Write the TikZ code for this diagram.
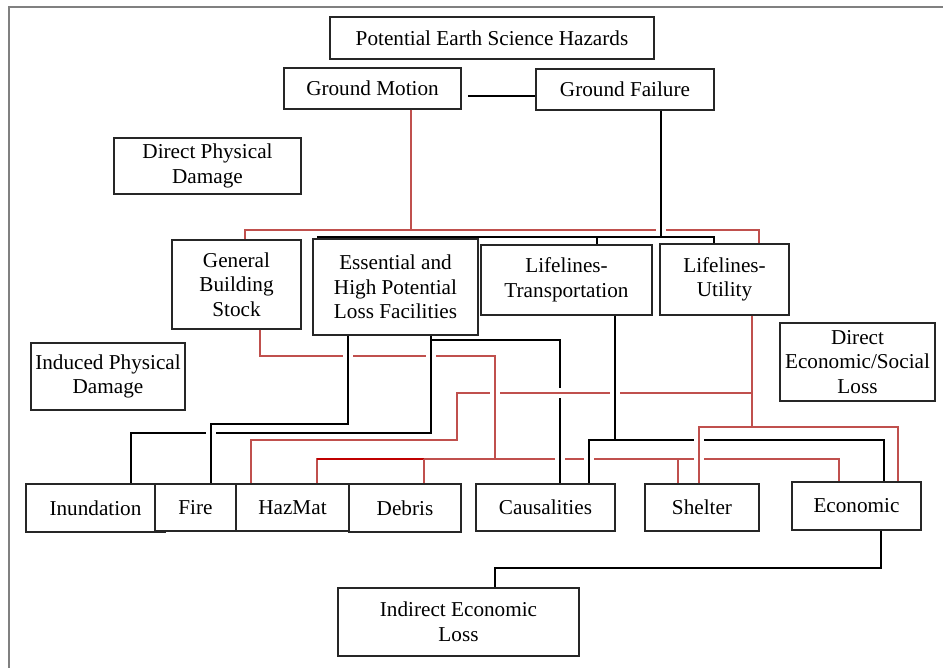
\documentclass[tikz,border=0pt]{standalone}
\usepackage{fontspec}
\setmainfont{Liberation Serif}
\definecolor{hazred}{RGB}{192,80,77}
\definecolor{hazdark}{RGB}{192,0,0}

\begin{document}
\begin{tikzpicture}[
  x=0.5pt, y=-0.5pt,
  font=\fontsize{10.6}{12.3}\selectfont,
  box/.style={rectangle, draw=black!85, line width=0.7pt, fill=white,
              align=center, inner sep=0pt},
  bk/.style={draw=black, line width=1pt},
  rd/.style={draw=hazred, line width=0.8pt},
  cut/.style={preaction={draw=white, line width=5pt}},
  frm/.style={draw=black!50, line width=1pt}
]
\useasboundingbox (0,0) rectangle (943,668);
\draw[frm] (9,668) -- (9,7) -- (943,7);

% top
\node[box, minimum width=162pt, minimum height=21pt] (haz) at (492,38) {Potential Earth Science Hazards};
\node[box, minimum width=88.5pt, minimum height=20.5pt] (gm) at (372.5,88.5) {Ground Motion};
\node[box, minimum width=89pt, minimum height=20.5pt] (gf) at (625,89.5) {Ground Failure};
\node[box, minimum width=93.5pt, minimum height=28pt] (dpd) at (207.5,166) {Direct Physical\\Damage};

% inventory
\node[box, minimum width=64.5pt, minimum height=44.5pt] (gbs) at (236.5,284.5) {General\\Building\\Stock};
\node[box, minimum width=82.5pt, minimum height=48pt] (ess) at (395.5,287) {Essential and\\High Potential\\Loss Facilities};
\node[box, minimum width=85.5pt, minimum height=35pt] (ltr) at (566.5,280) {Lifelines-\\Transportation};
\node[box, minimum width=64.5pt, minimum height=35.5pt] (lut) at (724.5,279.5) {Lifelines-\\Utility};
\node[box, minimum width=77.5pt, minimum height=39pt] (desl) at (857.5,362) {Direct\\Economic/Social\\Loss};
\node[box, minimum width=77pt, minimum height=33.5pt] (ipd) at (108,376.5) {Induced Physical\\Damage};

% losses
\node[box, minimum width=69.5pt, minimum height=24pt] (inu) at (95.5,508) {Inundation};
\node[box, minimum width=40.5pt, minimum height=23.5pt] (fire) at (195.5,507.5) {Fire};
\node[box, minimum width=56.5pt, minimum height=23.5pt] (hzm) at (292.5,507.5) {HazMat};
\node[box, minimum width=56pt, minimum height=24pt] (deb) at (405,508) {Debris};
\node[box, minimum width=69.5pt, minimum height=23.5pt] (cas) at (545.5,507.5) {Causalities};
\node[box, minimum width=57pt, minimum height=23.5pt] (shl) at (702,507.5) {Shelter};
\node[box, minimum width=64.5pt, minimum height=24pt] (eco) at (856.5,506) {Economic};
\node[box, minimum width=120.5pt, minimum height=34pt] (iel) at (458.5,622) {Indirect Economic\\Loss};

% bend points
\coordinate (b0) at (468,96);
\coordinate (r1) at (411,230);
\coordinate (r1l) at (245,230);
\coordinate (r1r) at (759,230);
\coordinate (b1) at (661,237);
\coordinate (b1l) at (318,237);
\coordinate (b1t) at (597,237);
\coordinate (b1r) at (714,237);
\coordinate (r2a) at (260,356);
\coordinate (r2b) at (495,356);
\coordinate (r2c) at (495,459);
\coordinate (r2l) at (317,459);
\coordinate (r2d) at (424,459);
\coordinate (r2s) at (678,459);
\coordinate (r2r) at (839,459);
\coordinate (b2a) at (348,424);
\coordinate (b2b) at (211,424);
\coordinate (b3a) at (431,433);
\coordinate (b3b) at (131,433);
\coordinate (b3c) at (431,340);
\coordinate (b3d) at (560,340);
\coordinate (r3a) at (752,427);
\coordinate (r3b) at (752,393);
\coordinate (r3c) at (457,393);
\coordinate (r3d) at (457,440);
\coordinate (r3e) at (251,440);
\coordinate (r3l) at (699,427);
\coordinate (r3r) at (898,427);
\coordinate (b4a) at (615,440);
\coordinate (b4l) at (589,440);
\coordinate (b4r) at (884,440);
\coordinate (b5a) at (881,568);
\coordinate (b5b) at (495,568);

% hazards to inventory
\draw[bk] (b0) -- (gf.west |- b0);
\draw[rd] (gm.south -| r1) -- (r1);
\draw[rd] (gbs.north -| r1l) -- (r1l) -- (r1r) -- (lut.north -| r1r);
\draw[bk] (gf.south -| b1) -- (b1);
\draw[bk] (ess.north -| b1l) -- (b1l) -- (b1r) -- (lut.north -| b1r);
\draw[bk] (b1t) -- (ltr.north -| b1t);

% inventory to losses
\draw[rd] (gbs.south -| r2a) -- (r2a) -- (r2b) -- (r2c);
\draw[rd] (hzm.north -| r2l) -- (r2l) -- (r2r) -- (eco.north -| r2r);
\draw[hazdark, line width=0.9pt] (r2l) -- (r2d);
\draw[rd] (r2d) -- (deb.north -| r2d);
\draw[rd] (r2s) -- (shl.north -| r2s);
\draw[bk] (ess.south -| b2a) -- (b2a) -- (b2b) -- (fire.north -| b2b);
\draw[bk] (ess.south -| b3a) -- (b3a) -- (b3b) -- (inu.north -| b3b);
\draw[bk] (b3c) -- (b3d) -- (cas.north -| b3d);
\draw[rd] (lut.south -| r3a) -- (r3a);
\draw[rd] (r3b) -- (r3c) -- (r3d) -- (r3e) -- (hzm.north -| r3e);
\draw[rd] (shl.north -| r3l) -- (r3l) -- (r3r) -- (eco.north -| r3r);
\draw[bk] (ltr.south -| b4a) -- (b4a);
\draw[bk] (cas.north -| b4l) -- (b4l) -- (b4r) -- (eco.north -| b4r);
\draw[bk] (eco.south -| b5a) -- (b5a) -- (b5b) -- (iel.north -| b5b);

% line jumps
\draw[bk, cut] (661,225) -- (661,235);
\draw[bk, cut] (348,351) -- (348,361);
\draw[bk, cut] (431,351) -- (431,361);
\draw[rd, cut] (495,388) -- (495,398);
\draw[bk, cut] (615,388) -- (615,398);
\draw[rd, cut] (555,393) -- (565,393);
\draw[bk, cut] (560,454) -- (560,464);
\draw[bk, cut] (589,454) -- (589,464);
\draw[rd, cut] (699,454) -- (699,464);
\draw[rd, cut] (699,435) -- (699,445);
\draw[bk, cut] (211,428) -- (211,438);
\end{tikzpicture}
\end{document}
